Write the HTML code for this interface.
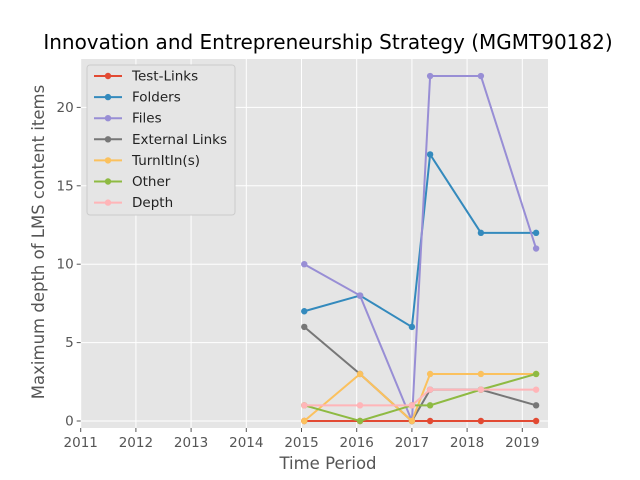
<!DOCTYPE html>
<html><head><meta charset="utf-8"><style>body{margin:0;background:#fff}svg{display:block;font-family:"DejaVu Sans","Liberation Sans",sans-serif}</style></head>
<body>
<svg id="c" width="640" height="480"></svg>
<script>
const xValues=[2015.05,2016.06,2017.0,2017.33,2018.25,2019.25];
const seriesNames=["Test-Links","Folders","Files","External Links","TurnItIn(s)","Other","Depth"];
const testLinks=[0,0,0,0,0,0];
const folders=[7,8,6,17,12,12];
const files=[10,8,0,22,22,11];
const externalLinks=[6,3,0,2,2,1];
const turnitin=[0,3,0,3,3,3];
const other=[1,0,1,1,2,3];
const depth=[1,1,1,2,2,2];
const xTicks=[2011,2012,2013,2014,2015,2016,2017,2018,2019];
const yTicks=[0,5,10,15,20];
const series=[testLinks,folders,files,externalLinks,turnitin,other,depth];
const colors=["#E24A33","#348ABD","#988ED5","#777777","#FBC15E","#8EBA42","#FFB5B8"];
const L=80.7,R=548,T=59,B=428;
const X=v=>L+(v-2011)*55.2;
const Y=v=>421-v*15.68;
const svg=document.getElementById('c');const NS="http://www.w3.org/2000/svg";
function mk(t,a,p){const e=document.createElementNS(NS,t);for(const k in a)e.setAttribute(k,a[k]);(p||svg).appendChild(e);return e;}
let e=mk('rect',{x:L,y:T,width:R-L,height:B-T,fill:'#E5E5E5'});


xTicks.forEach(t=>{const x=X(t);
e=mk('line',{x1:x,x2:x,y1:T,y2:B,stroke:'#fff','stroke-width':1});


mk('line',{x1:x,x2:x,y1:B,y2:B+4,stroke:'#555'});
e=mk('text',{x:x,y:B+19,'text-anchor':'middle','font-size':13.5,fill:'#555'});e.textContent=t;

});
yTicks.forEach(t=>{const y=Y(t);
e=mk('line',{x1:L,x2:R,y1:y,y2:y,stroke:'#fff','stroke-width':1});


mk('line',{x1:L-4,x2:L,y1:y,y2:y,stroke:'#555'});
e=mk('text',{x:L-7,y:y+4.5,'text-anchor':'end','font-size':13.5,fill:'#555'});e.textContent=t;

});
series.forEach((s,i)=>{
e=mk('polyline',{points:s.map((v,j)=>X(xValues[j])+','+Y(v)).join(' '),fill:'none',stroke:colors[i],'stroke-width':2});


s.forEach((v,j)=>{e=mk('circle',{cx:X(xValues[j]),cy:Y(v),r:3.2,fill:colors[i]});

});});
e=mk('text',{x:328,y:49,'text-anchor':'middle','font-size':20,fill:'#000'});e.textContent='Innovation and Entrepreneurship Strategy (MGMT90182)';


e=mk('text',{x:328,y:469,'text-anchor':'middle','font-size':16.5,fill:'#555'});e.textContent='Time Period';


e=mk('text',{x:0,y:0,'text-anchor':'middle','font-size':16.5,fill:'#555',transform:'translate(44,242) rotate(-90)'});e.textContent='Maximum depth of LMS content items';


const lg=mk('g',{});


mk('rect',{x:87,y:65,width:148,height:150,fill:'#E5E5E5',stroke:'#ccc',rx:3},lg);
seriesNames.forEach((n,i)=>{const y=76+i*21.1;
mk('line',{x1:94,x2:122,y1:y,y2:y,stroke:colors[i],'stroke-width':2},lg);
mk('circle',{cx:108,cy:y,r:3.2,fill:colors[i]},lg);
e=mk('text',{x:132,y:y+4.5,'font-size':13.5,fill:'#222'},lg);e.textContent=n;

});
</script>
</body></html>
